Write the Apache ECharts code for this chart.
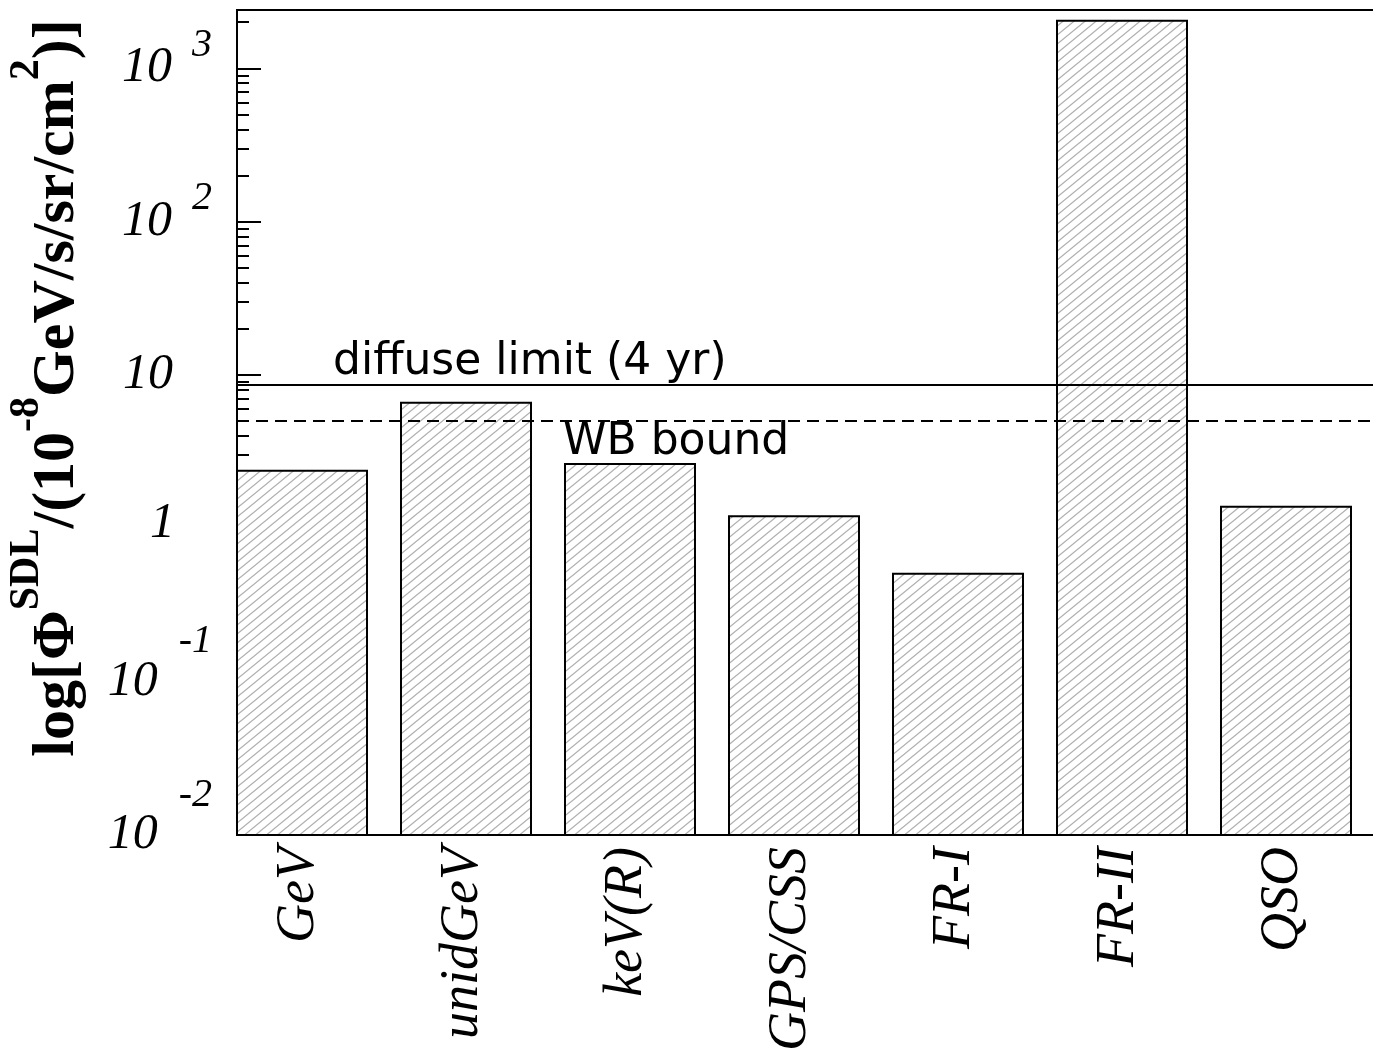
<!DOCTYPE html>
<html><head><meta charset="utf-8">
<script src="https://cdn.jsdelivr.net/npm/echarts@6/dist/echarts.min.js"></script>
<style>html,body{margin:0;padding:0;background:#fff}#c{width:1373px;height:1061px}</style>
</head><body><div id="c"></div>
<script>
// ---- data ----
const categories = ['GeV', 'unidGeV', 'keV(R)', 'GPS/CSS', 'FR-I', 'FR-II', 'QSO'];
const fluxValues = [2.37, 6.58, 2.63, 1.20, 0.505, 2040, 1.38];
const diffuseLimit = 8.61;
const wbBound = 5.02;
const diffuseLabel = 'diffuse limit (4 yr)';
const wbLabel = 'WB bound';
const majorTicks = [0.01, 0.1, 1, 10, 100, 1000];
const tickLabels = {'-2': ['10', '-2'], '-1': ['10', '-1'], '0': ['1', ''], '1': ['10', ''], '2': ['10', '2'], '3': ['10', '3']};
const yMin = 0.01, yMax = 2400;
const minorTicks = [];
for (let e = -2; e <= 3; e++) for (let m = 2; m <= 9; m++) { const v = m * Math.pow(10, e); if (v < yMax) minorTicks.push(v); }

// ---- hatch pattern ----
const tile = document.createElement('canvas');
tile.width = 11; tile.height = 9;
const g = tile.getContext('2d');
g.fillStyle = '#fff'; g.fillRect(0, 0, 11, 9);
g.strokeStyle = '#b0b0b0'; g.lineWidth = 1.3;
g.beginPath();
for (const dx of [-11, 0, 11]) { g.moveTo(dx - 11, 18); g.lineTo(dx + 22, -9); }
g.stroke();
const hatch = {image: tile, repeat: 'repeat'};

const serif = "'Liberation Serif', 'Times New Roman', serif";
const chart = echarts.init(document.getElementById('c'), null, {renderer: 'canvas'});

function yLabel(v) {
  const e = Math.round(Math.log10(v));
  const t = tickLabels[String(e)];
  if (!t) return '';
  if (!t[1]) return (t[0].length === 1 ? '{q|' : '{p|') + t[0] + '}';
  return '{b|' + t[0] + '}' + (e < 0 ? '{n|' : '{s|') + t[1] + '}';
}

chart.setOption({
  backgroundColor: '#fff',
  animation: false,
  grid: {left: 237, top: 10, width: 1148, height: 825, outerBoundsMode: 'none', containLabel: false,
         show: true, borderColor: '#000', borderWidth: 2, backgroundColor: 'transparent'},
  xAxis: {
    type: 'category', data: categories,
    axisLine: {show: true, lineStyle: {color: '#000', width: 2}},
    axisTick: {show: false},
    splitLine: {show: false},
    axisLabel: {
      rotate: 90, interval: 0, margin: 12,
      formatter: v => '{c|' + v + '}',
      rich: {c: {fontFamily: serif, fontStyle: 'italic', fontSize: 54, color: '#000', padding: [0, 0, 40, 0]}}
    }
  },
  yAxis: [{
    type: 'log', logBase: 10, min: yMin, max: yMax, position: 'left',
    axisLine: {show: true, lineStyle: {color: '#000', width: 2}},
    axisTick: {show: true, inside: true, length: 24, lineStyle: {color: '#000', width: 2}, customValues: majorTicks},
    minorTick: {show: false},
    splitLine: {show: false},
    axisLabel: {
      customValues: majorTicks, margin: 25, color: '#000', formatter: yLabel,
      rich: {
        b: {fontFamily: serif, fontStyle: 'italic', fontSize: 50, color: '#000'},
        p: {fontFamily: serif, fontStyle: 'italic', fontSize: 50, color: '#000', padding: [0, 39, 0, 0]},
        q: {fontFamily: serif, fontStyle: 'italic', fontSize: 50, color: '#000', padding: [0, 37, 8, 0]},
        s: {fontFamily: serif, fontStyle: 'italic', fontSize: 40, color: '#000', padding: [0, 0, 46, 20]},
        n: {fontFamily: serif, fontStyle: 'italic', fontSize: 40, color: '#000', padding: [0, 0, 80, 21]}
      }
    }
  }, {
    type: 'log', logBase: 10, min: yMin, max: yMax, position: 'left',
    axisLine: {show: false},
    axisTick: {show: true, inside: true, length: 12, lineStyle: {color: '#000', width: 2}, customValues: minorTicks},
    axisLabel: {show: false},
    splitLine: {show: false}
  }],
  graphic: [{
    type: 'text', x: 57, y: 388, rotation: Math.PI / 2,
    style: {
      text: '{m|log[Φ}{s|SDL}{m|/(10}{s|-8}{m|GeV/s/sr/cm}{s|2}{m|)]}',
      align: 'center', verticalAlign: 'middle',
      rich: {
        m: {fontFamily: serif, fontWeight: 'bold', fontSize: 60, color: '#000'},
        s: {fontFamily: serif, fontWeight: 'bold', fontSize: 42, color: '#000', padding: [0, 0, 60, 0]}
      }
    }
  }],
  series: [{
    type: 'custom', name: 'flux',
    data: fluxValues.map((v, i) => [i, v]),
    encode: {x: 0, y: 1},
    renderItem: function (params, api) {
      const i = api.value(0), v = api.value(1);
      const top = api.coord([i, v]);
      const base = api.coord([i, yMin]);
      const band = api.size([1, 0])[0];
      const w = band * 130 / 164;
      return {
        type: 'rect',
        shape: {x: top[0] - band / 2, y: top[1], width: w, height: base[1] - top[1]},
        style: {fill: hatch, stroke: '#000', lineWidth: 2}
      };
    }
  }, {
    type: 'line', name: 'limits', data: categories.map(() => '-'), symbol: 'none', silent: true,
    markLine: {
      silent: true, symbol: 'none', animation: false,
      data: [{
        yAxis: diffuseLimit,
        lineStyle: {color: '#000', width: 2, type: 'solid'},
        label: {show: true, position: 'insideStartTop', formatter: diffuseLabel, distance: 0, padding: [0, 0, 0, 96], fontFamily: 'DejaVu Sans', fontSize: 44, color: '#000'}
      }, {
        yAxis: wbBound,
        lineStyle: {color: '#000', width: 2, type: [12, 7]},
        label: {show: true, position: 'insideStartBottom', formatter: wbLabel, distance: 0, padding: [0, 0, 0, 326], fontFamily: 'DejaVu Sans', fontSize: 44, color: '#000'}
      }]
    }
  }]
});
</script></body></html>
